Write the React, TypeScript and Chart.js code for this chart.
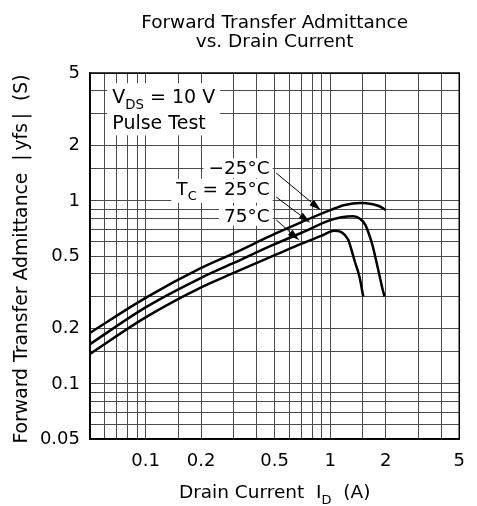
import React, { useEffect, useRef } from 'react';
import { Chart, registerables } from 'chart.js';

Chart.register(...registerables);

// ---- data ----
const currentM25 = [0.05, 0.1, 0.2, 0.3, 0.5, 0.7, 1.0, 1.2, 1.45, 1.7, 1.85, 2.0];
const yfsM25 = [0.19, 0.295, 0.43, 0.517, 0.66, 0.766, 0.89, 0.95, 0.975, 0.96, 0.935, 0.89];

const current25 = [0.05, 0.1, 0.2, 0.3, 0.5, 0.7, 1.0, 1.15, 1.33, 1.45, 1.55, 1.62, 1.7, 1.77, 1.84, 1.92, 1.97];
const yfs25 = [0.165, 0.262, 0.38, 0.458, 0.58, 0.67, 0.785, 0.815, 0.825, 0.8, 0.74, 0.66, 0.565, 0.475, 0.4, 0.33, 0.3];

const current75 = [0.05, 0.1, 0.2, 0.3, 0.5, 0.7, 0.9, 1.05, 1.15, 1.25, 1.3, 1.36, 1.44, 1.51];
const yfs75 = [0.146, 0.231, 0.337, 0.404, 0.505, 0.584, 0.646, 0.688, 0.675, 0.615, 0.545, 0.465, 0.385, 0.3];

const X_TICK_LABELS = [0.1, 0.2, 0.5, 1, 2, 5];
const Y_TICK_LABELS = [0.05, 0.1, 0.2, 0.5, 1, 2, 5];

const TITLE_LINES = ['Forward Transfer Admittance', 'vs. Drain Current'];
const Y_TITLE = 'Forward Transfer Admittance  |\u2009yfs\u2009|  (S)';

// annotation anchors in data space
const VDS_ANCHOR = { x: 0.066, y1: 3.42, y2: 2.46 };
const TEMP_LABEL_X = 0.47;
const TEMP_LABEL_Y = [1.4, 1.08, 0.77];
const ARROW_FROM = [
  [0.51, 1.42],
  [0.51, 1.05],
  [0.51, 0.787],
];
const ARROW_TO = [
  [0.89, 0.89],
  [0.78, 0.76],
  [0.68, 0.61],
];

const FAMILY = '"DejaVu Sans", "Liberation Sans", Arial, sans-serif';
const fnt = (s: number) => `${s}px ${FAMILY}`;

type Part = { t: string; sub?: boolean };

function partsWidth(ctx: CanvasRenderingContext2D, parts: Part[], size: number) {
  let w = 0;
  for (const p of parts) {
    ctx.font = fnt(p.sub ? size * 0.7 : size);
    w += ctx.measureText(p.t).width;
  }
  return w;
}

function drawParts(ctx: CanvasRenderingContext2D, parts: Part[], x: number, y: number, size: number) {
  let cx = x;
  for (const p of parts) {
    ctx.font = fnt(p.sub ? size * 0.7 : size);
    ctx.fillText(p.t, cx, p.sub ? y + size * 0.3 : y);
    cx += ctx.measureText(p.t).width;
  }
}

function drawArrow(ctx: CanvasRenderingContext2D, x0: number, y0: number, x1: number, y1: number) {
  const a = Math.atan2(y1 - y0, x1 - x0);
  const L = 12;
  const W = 3.5;
  const bx = x1 - L * Math.cos(a);
  const by = y1 - L * Math.sin(a);
  ctx.beginPath();
  ctx.moveTo(x0, y0);
  ctx.lineTo(bx, by);
  ctx.lineWidth = 1;
  ctx.strokeStyle = '#000';
  ctx.stroke();
  ctx.beginPath();
  ctx.moveTo(x1, y1);
  ctx.lineTo(bx + W * Math.sin(a), by - W * Math.cos(a));
  ctx.lineTo(bx - W * Math.sin(a), by + W * Math.cos(a));
  ctx.closePath();
  ctx.fillStyle = '#000';
  ctx.fill();
}

const overlay = {
  id: 'overlay',
  beforeDatasetsDraw(chart: any) {
    const ctx: CanvasRenderingContext2D = chart.ctx;
    const xs = chart.scales.x;
    const ys = chart.scales.y;
    ctx.save();
    ctx.textAlign = 'left';
    ctx.textBaseline = 'alphabetic';

    // V_DS / Pulse Test box
    const size1 = 19;
    const vdsParts: Part[] = [{ t: 'V' }, { t: 'DS', sub: true }, { t: ' = 10 V' }];
    const pulseParts: Part[] = [{ t: 'Pulse Test' }];
    const lx = xs.getPixelForValue(VDS_ANCHOR.x);
    const b1 = ys.getPixelForValue(VDS_ANCHOR.y1);
    const b2 = ys.getPixelForValue(VDS_ANCHOR.y2);
    const w1 = Math.max(partsWidth(ctx, vdsParts, size1), partsWidth(ctx, pulseParts, size1));
    ctx.fillStyle = '#fff';
    ctx.fillRect(lx - 5, b1 - 20, w1 + 10, b2 + 6 - (b1 - 20));
    ctx.fillStyle = '#000';
    drawParts(ctx, vdsParts, lx, b1, size1);
    drawParts(ctx, pulseParts, lx, b2, size1);

    // temperature labels
    const size2 = 18.5;
    const lines: Part[][] = [
      [{ t: '\u221225\u00B0C' }],
      [{ t: 'T' }, { t: 'C', sub: true }, { t: ' = 25\u00B0C' }],
      [{ t: '75\u00B0C' }],
    ];
    const rx = xs.getPixelForValue(TEMP_LABEL_X);
    lines.forEach((parts, i) => {
      const by = ys.getPixelForValue(TEMP_LABEL_Y[i]);
      const w = partsWidth(ctx, parts, size2);
      const hasSub = parts.some((p) => p.sub);
      ctx.fillStyle = '#fff';
      ctx.fillRect(rx - w - 5, by - 16, w + 8, (hasSub ? 24 : 20));
      ctx.fillStyle = '#000';
      drawParts(ctx, parts, rx - w, by, size2);
    });
    ctx.restore();
  },
  afterDatasetsDraw(chart: any) {
    const ctx: CanvasRenderingContext2D = chart.ctx;
    const xs = chart.scales.x;
    const ys = chart.scales.y;
    const area = chart.chartArea;
    ctx.save();
    for (let i = 0; i < ARROW_FROM.length; i++) {
      drawArrow(
        ctx,
        xs.getPixelForValue(ARROW_FROM[i][0]),
        ys.getPixelForValue(ARROW_FROM[i][1]),
        xs.getPixelForValue(ARROW_TO[i][0]),
        ys.getPixelForValue(ARROW_TO[i][1])
      );
    }
    // frame
    ctx.strokeStyle = '#000';
    ctx.lineWidth = 1.5;
    ctx.strokeRect(area.left, area.top, area.right - area.left, area.bottom - area.top);

    // titles
    const cx = (area.left + area.right) / 2;
    ctx.fillStyle = '#000';
    ctx.textAlign = 'center';
    ctx.textBaseline = 'alphabetic';
    ctx.font = fnt(18.5);
    ctx.fillText(TITLE_LINES[0], cx, area.top - 45);
    ctx.fillText(TITLE_LINES[1], cx, area.top - 26);

    // x title with subscript
    const xParts: Part[] = [{ t: 'Drain Current  I' }, { t: 'D', sub: true }, { t: '  (A)' }];
    const xw = partsWidth(ctx, xParts, 18.5);
    ctx.textAlign = 'left';
    drawParts(ctx, xParts, cx - xw / 2, area.bottom + 59, 18.5);

    // y title rotated
    ctx.save();
    ctx.translate(27, (area.top + area.bottom) / 2 + 3);
    ctx.rotate(-Math.PI / 2);
    ctx.textAlign = 'center';
    ctx.font = fnt(18.8);
    ctx.fillText(Y_TITLE, 0, 0);
    ctx.restore();

    ctx.restore();
  },
};

const pick = (v: number, list: number[]) => {
  const m = list.find((l) => Math.abs(v - l) / l < 1e-6);
  return m === undefined ? '' : String(m);
};

export default function App() {
  const ref = useRef<HTMLCanvasElement>(null);
  useEffect(() => {
    const canvas = ref.current!;
    const mk = (xs: number[], ys: number[], label: string) => ({
      label,
      data: xs.map((x, i) => ({ x, y: ys[i] })),
      borderColor: '#000',
      borderWidth: 2.5,
      pointRadius: 0,
      fill: false,
      cubicInterpolationMode: 'monotone' as const,
    });
    const gridColor = '#4a4a4a';
    const chart = new Chart(canvas, {
      type: 'line',
      data: {
        datasets: [
          mk(currentM25, yfsM25, '-25°C'),
          mk(current25, yfs25, '25°C'),
          mk(current75, yfs75, '75°C'),
        ],
      },
      options: {
        responsive: false,
        devicePixelRatio: 1,
        animation: false,
        layout: { padding: { left: 0, top: 73, right: 8, bottom: 0 } },
        plugins: { legend: { display: false }, tooltip: { enabled: false }, title: { display: false } },
        scales: {
          x: {
            type: 'logarithmic',
            position: 'bottom',
            min: 0.05,
            max: 5,
            grid: { color: gridColor, lineWidth: 1, drawTicks: false },
            border: { display: true, color: '#000', width: 1.5 },
            ticks: {
              autoSkip: false,
              maxRotation: 0,
              padding: 12,
              color: '#000',
              font: { family: FAMILY, size: 18 },
              callback: (v: any) => pick(Number(v), X_TICK_LABELS),
            },
            afterFit: (s: any) => {
              s.height = 67;
            },
          },
          y: {
            type: 'logarithmic',
            position: 'left',
            min: 0.05,
            max: 5,
            grid: { color: gridColor, lineWidth: 1, drawTicks: false },
            border: { display: true, color: '#000', width: 1.5 },
            ticks: {
              autoSkip: false,
              padding: 10,
              color: '#000',
              font: { family: FAMILY, size: 18 },
              callback: (v: any) => pick(Number(v), Y_TICK_LABELS),
            },
            afterFit: (s: any) => {
              s.width = 90;
            },
          },
        },
      },
      plugins: [overlay],
    } as any);
    return () => chart.destroy();
  }, []);
  return (
    <div style={{ position: 'fixed', left: 0, top: 0, width: 477, height: 506, background: '#fff' }}>
      <canvas ref={ref} width={477} height={506} style={{ width: 477, height: 506, display: 'block' }} />
    </div>
  );
}
